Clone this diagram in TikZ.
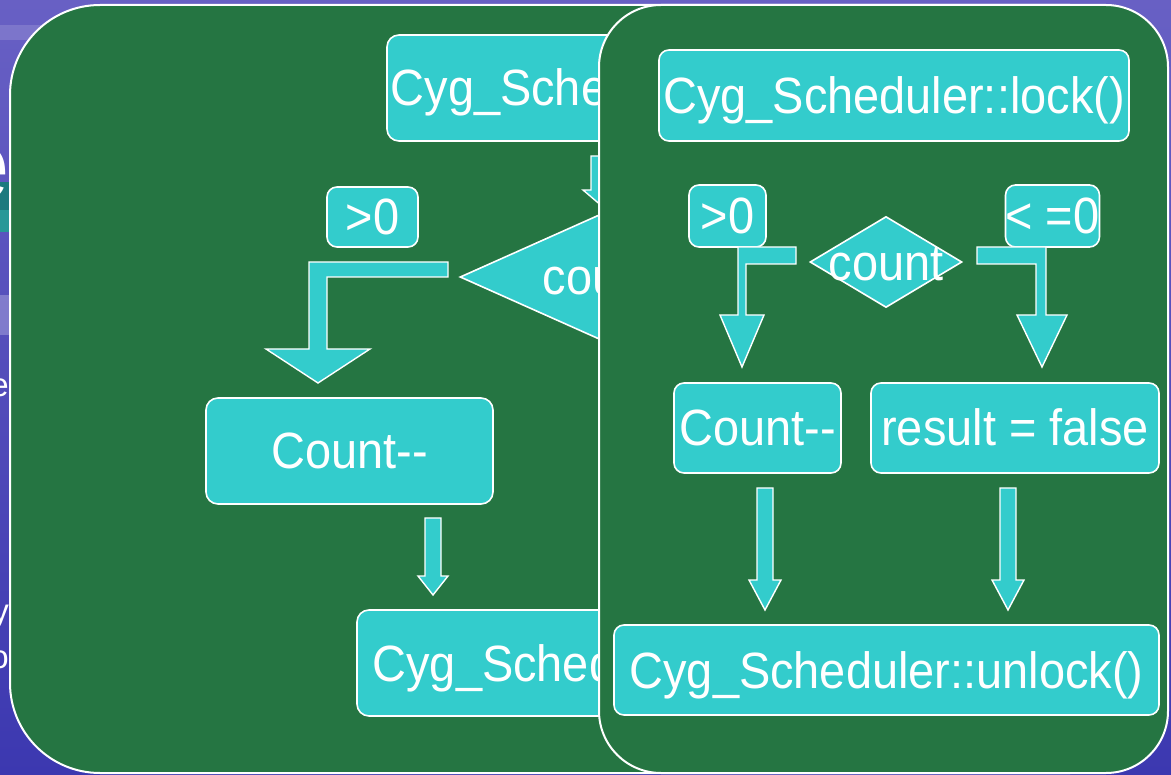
\documentclass[tikz,border=0pt]{standalone}
\usepackage{fontspec}
\setmainfont{Liberation Sans}
\newfontfamily\narrowsans{Liberation Sans}[FakeStretch=0.92]
\usetikzlibrary{shapes.geometric}
\definecolor{bgtop}{RGB}{104,96,196}
\definecolor{bgmid}{RGB}{98,92,196}
\definecolor{bgbot}{RGB}{60,56,176}
\definecolor{panelgreen}{RGB}{37,117,66}
\definecolor{boxcyan}{RGB}{51,204,204}
\definecolor{tealdark}{RGB}{28,122,126}
\definecolor{teallight}{RGB}{40,152,152}
\newcommand\boxfont{\narrowsans\fontsize{51}{60}\selectfont}
\begin{document}
\begin{tikzpicture}[x=1pt,y=-1pt,
  panel/.style={fill=panelgreen,draw=white,line width=2pt},
  box/.style={rectangle,fill=boxcyan,draw=white,line width=1.6pt,rounded corners=10pt,
    text=white,font=\boxfont,inner sep=0pt,text height=36pt,text depth=0pt},
  lbl/.style={text=white,font=\boxfont,inner sep=0pt,text height=36pt,text depth=0pt},
  dia/.style={diamond,fill=boxcyan,draw=white,line width=1.6pt,inner sep=0pt},
  blk/.style={fill=boxcyan,draw=white,line width=1.4pt,line join=miter},
  slide/.style={text=white,inner sep=0pt,anchor=base east}]

% slide background
\path[use as bounding box] (0,0) rectangle (1171,775);
\shade[top color=bgtop,middle color=bgmid,bottom color=bgbot] (0,0) rectangle (1171,775);
\fill[white,opacity=0.25] (0,295) rectangle (12,335);
\fill[white,opacity=0.15] (0,25) rectangle (60,40);

% slide title band and bullet text behind the panels
\fill[tealdark] (0,182) rectangle (14,210);
\fill[teallight] (0,210) rectangle (14,232);
\node[slide,font=\fontsize{100}{100}\selectfont] (ttl) at (10,200) {e};
\node[slide,font=\fontsize{33}{40}\selectfont] (bl1) at (9,397) {e};
\node[slide,font=\fontsize{33}{40}\selectfont] (bl2) at (9,623) {y};
\node[slide,font=\fontsize{33}{40}\selectfont] (bl3) at (9,668) {o};

% ---------- first panel ----------
\draw[panel,rounded corners=90pt] (10,5) rectangle (1160,773);

\node[box,rounded corners=12pt,minimum width=469pt,minimum height=106pt] (lockL) at (621.5,88) {Cyg\_Scheduler::lock()};
\draw[blk] (591,156) -- (615,156) -- (615,190) -- (623,190) -- (603,207) -- (583,190) -- (591,190) -- cycle;
\node[dia,minimum width=286pt,minimum height=128pt] (cntL) at (603,277) {};
\node[lbl] (cntLt) at (600,277) {count};
\node[box,minimum width=91pt,minimum height=60pt] (gtL) at (372.5,217) {>0};
\draw[blk] (448,262) -- (309,262) -- (309,349) -- (266,349) -- (318,383) -- (370,349)
  -- (327,349) -- (327,277) -- (448,277) -- cycle;
\node[box,rounded corners=12pt,minimum width=287pt,minimum height=106pt] (decL) at (349.5,451) {Count-{}-};
\draw[blk] (425,518) -- (441,518) -- (441,576) -- (448,576) -- (433,595) -- (418,576) -- (425,576) -- cycle;
\node[box,rounded corners=12pt,minimum width=545pt,minimum height=106pt] (unlockL) at (629.5,663) {Cyg\_Scheduler::unlock()};

% ---------- second panel ----------
\draw[panel,rounded corners=62pt] (599,5) rectangle (1168,773);

\node[box,minimum width=470pt,minimum height=91pt] (lockR) at (894,95.5) {Cyg\_Scheduler::lock()};
\node[box,minimum width=77pt,minimum height=62pt] (gtR) at (727.5,216) {>0};
\node[box,minimum width=91pt,minimum height=62pt] (leR) at (1052.5,216) {< =0};
\node[dia,minimum width=152pt,minimum height=91pt] (cntR) at (886,262) {};
\node[lbl] (cntRt) at (886,263) {count};

\draw[blk] (796,247) -- (738,247) -- (738,315) -- (720,315) -- (742,367) -- (764,315)
  -- (746,315) -- (746,264) -- (796,264) -- cycle;
\draw[blk] (977,247) -- (1046,247) -- (1046,315) -- (1067,315) -- (1042,367) -- (1017,315)
  -- (1036,315) -- (1036,264) -- (977,264) -- cycle;

\node[box,minimum width=167pt,minimum height=90pt] (decR) at (757.5,428) {Count-{}-};
\node[box,minimum width=288pt,minimum height=90pt] (resR) at (1015,428) {result = false};

\draw[blk] (757,488) -- (773,488) -- (773,580) -- (781,580) -- (765,610) -- (749,580) -- (757,580) -- cycle;
\draw[blk] (1000,488) -- (1016,488) -- (1016,580) -- (1024,580) -- (1008,610) -- (992,580) -- (1000,580) -- cycle;

\node[box,minimum width=545pt,minimum height=90pt] (unlockR) at (886.5,670) {Cyg\_Scheduler::unlock()};
\end{tikzpicture}
\end{document}
